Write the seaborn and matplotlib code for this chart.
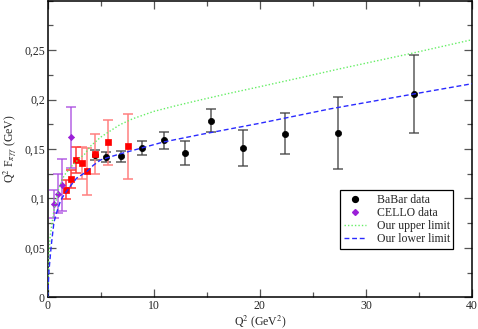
import numpy as np
import pandas as pd
import matplotlib
matplotlib.use("Agg")
import matplotlib.pyplot as plt
import seaborn as sns
from matplotlib.ticker import MultipleLocator, FuncFormatter
from matplotlib.lines import Line2D

# ---- data ----
babar_x = [4.45, 5.45, 6.9, 8.92, 10.92, 12.94, 15.38, 18.38, 22.38, 27.34, 34.5]
babar_y = [0.1443, 0.1423, 0.1425, 0.151, 0.1586, 0.146, 0.1786, 0.151, 0.1655, 0.166, 0.2056]
babar_e = [0.005, 0.005, 0.0055, 0.007, 0.0085, 0.012, 0.0115, 0.018, 0.0205, 0.0365, 0.039]

red_x = [1.70, 2.20, 2.71, 3.21, 3.72, 4.47, 5.67, 7.6]
red_y = [0.1086, 0.1197, 0.1389, 0.1355, 0.1274, 0.145, 0.1567, 0.1526]
red_e = [0.0096, 0.009, 0.013, 0.016, 0.024, 0.0205, 0.0225, 0.0325]

cello_x = [0.55, 1.0, 1.38, 2.18]
cello_y = [0.0944, 0.1045, 0.1136, 0.1617]
cello_e = [0.014, 0.0197, 0.026, 0.031]

upper_x = [0, 0.1, 0.22, 0.59, 1.07, 1.54, 2.2, 3.0, 3.5, 4.0, 5.0, 6.0, 6.8, 8.0, 10, 12, 14.35,
           17, 20, 24, 27.5, 34, 40]
upper_y = [0, 0.035, 0.061, 0.088, 0.111, 0.123, 0.132, 0.1405, 0.145, 0.1525, 0.162, 0.169, 0.1745,
           0.1805, 0.188, 0.1935, 0.1995, 0.206, 0.213, 0.2225, 0.231, 0.246, 0.2605]

lower_x = [0, 0.12, 0.34, 0.59, 0.85, 1.22, 1.5, 2.17, 2.73, 3.73, 4.3, 5.0, 6.8, 8.86, 10.9,
           14.35, 20, 26.6, 34.5, 40]
lower_y = [0, 0.027, 0.053, 0.076, 0.086, 0.098, 0.103, 0.113, 0.1205, 0.1275, 0.1335, 0.139,
           0.145, 0.151, 0.157, 0.1645, 0.176, 0.1905, 0.2056, 0.216]

x_ticks = [0, 10, 20, 30, 40]
y_ticks = [0, 0.05, 0.1, 0.15, 0.2, 0.25]

# ---- plot ----
sns.set_style("ticks")
plt.rcParams["font.family"] = ["Liberation Serif", "DejaVu Serif"]
plt.rcParams["mathtext.fontset"] = "stix"

FS = 8.5
fig = plt.figure(figsize=(4.78, 3.29), dpi=100)
ax = fig.add_axes([0.0998, 0.0964, 0.8877, 0.9016])

upper_df = pd.DataFrame({"x": upper_x, "y": upper_y})
lower_df = pd.DataFrame({"x": lower_x, "y": lower_y})

ax.errorbar(babar_x, babar_y, yerr=babar_e, fmt="none", ecolor="#404040",
            elinewidth=1.1, capsize=3.6, capthick=1.1, alpha=0.85)
ax.errorbar(red_x[3:], red_y[3:], yerr=red_e[3:], fmt="none", ecolor="#ff8080",
            elinewidth=1.1, capsize=3.6, capthick=1.1)
ax.errorbar(red_x[:3], red_y[:3], yerr=red_e[:3], fmt="none", ecolor="#ff3a3a",
            elinewidth=1.1, capsize=3.6, capthick=1.1)
ax.errorbar(cello_x, cello_y, yerr=cello_e, fmt="none", ecolor="#a848e0",
            elinewidth=1.1, capsize=3.6, capthick=1.1, alpha=0.85)

sns.scatterplot(x=babar_x, y=babar_y, ax=ax, color="black", marker="o", s=20,
                edgecolor="black", linewidth=0.5, zorder=5)
sns.scatterplot(x=red_x, y=red_y, ax=ax, color="#ff0000", marker="s", s=20,
                edgecolor="#ff0000", linewidth=0.5, zorder=6)
sns.scatterplot(x=cello_x, y=cello_y, ax=ax, color="#9b1fd8", marker="D", s=10,
                edgecolor="#9b1fd8", linewidth=0.5, zorder=6)

sns.lineplot(data=upper_df, x="x", y="y", ax=ax, color="#66ee66", lw=1.0,
             linestyle=(0, (1, 1.5)), sort=False, zorder=7)
sns.lineplot(data=lower_df, x="x", y="y", ax=ax, color="#2a2aff", lw=1.0,
             linestyle=(0, (3.5, 2)), sort=False, zorder=7)

ax.set_xlim(0, 40)
ax.set_ylim(0, 0.3)
ax.set_xticks(x_ticks)
ax.set_yticks(y_ticks)
ax.xaxis.set_minor_locator(MultipleLocator(5))
ax.yaxis.set_minor_locator(MultipleLocator(0.025))
ax.yaxis.set_major_formatter(FuncFormatter(lambda v, p: "0" if v == 0 else ("%g" % round(v, 3)).replace(".", ",")))
ax.tick_params(which="both", direction="in", top=True, right=True, labelsize=FS,
               width=0.9, color="#555555", pad=2)
ax.tick_params(which="major", length=6)
ax.tick_params(which="minor", length=3.6)
for s in ax.spines.values():
    s.set_linewidth(1.1)
    s.set_color("black")

ax.set_xlabel(r"Q$^2$ (GeV$^2$)", fontsize=FS, labelpad=1)
ax.set_ylabel(r"Q$^2$ F$_{\pi\gamma\gamma}$ (GeV)", fontsize=FS, labelpad=3)

handles = [
    Line2D([], [], ls="none", marker="o", color="black", markersize=4.2),
    Line2D([], [], ls="none", marker="D", color="#9b1fd8", markersize=3.0),
    Line2D([], [], color="#66ee66", lw=1.0, ls=(0, (1, 1.5))),
    Line2D([], [], color="#2a2aff", lw=1.0, ls=(0, (3.5, 2))),
]
labels = ["BaBar data", "CELLO data", "Our upper limit", "Our lower limit"]
leg = ax.legend(handles, labels, loc="lower right", bbox_to_anchor=(0.956, 0.163),
                fontsize=FS, frameon=True, fancybox=False, framealpha=1,
                edgecolor="black", handlelength=1.9, handletextpad=0.9,
                labelspacing=0.1, borderpad=0.3, borderaxespad=0)
leg.get_frame().set_linewidth(0.9)

fig.savefig("out.png", dpi=100)
